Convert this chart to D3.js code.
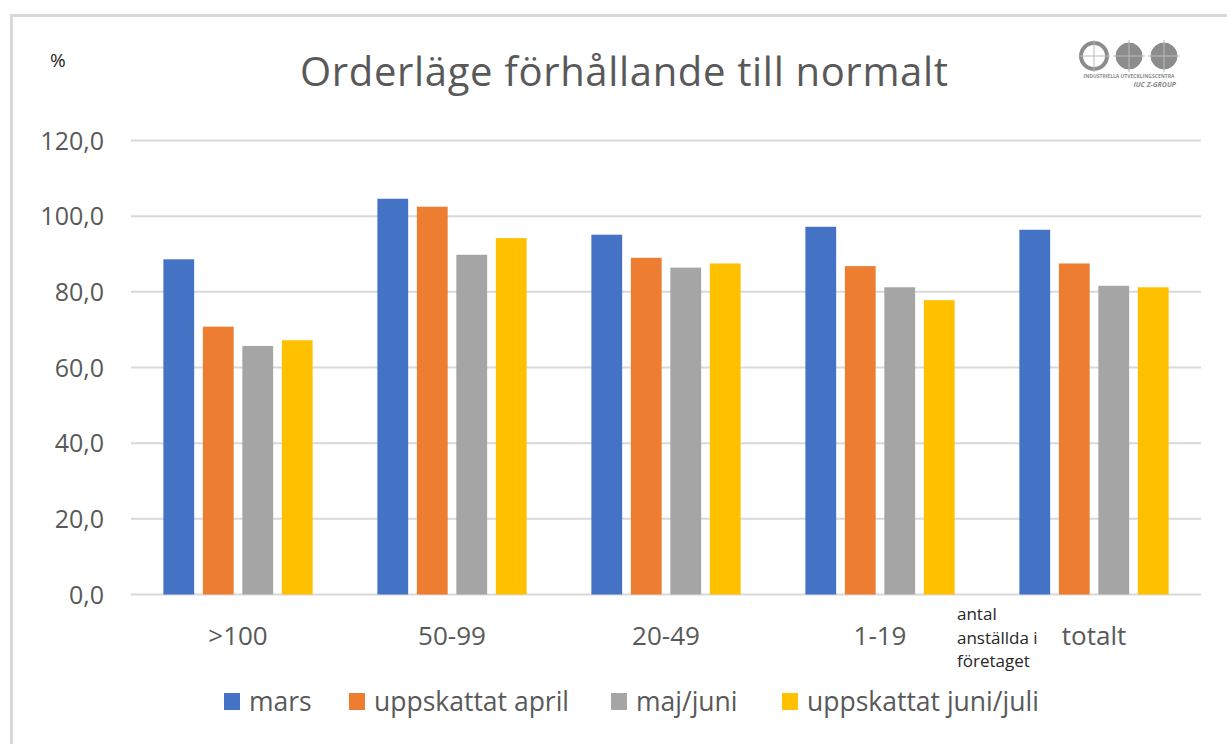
<!DOCTYPE html>
<html>
<head>
<meta charset="utf-8">
<script src="https://cdn.jsdelivr.net/npm/d3@7"></script>
<style>
  body { margin: 0; background: #fff; }
  svg { display: block; font-family: "Open Sans", "Liberation Sans", sans-serif; }
</style>
</head>
<body>
<svg id="chart" width="1227" height="744"></svg>
<script>
var categories = ['>100', '50-99', '20-49', '1-19', 'totalt'];
var seriesNames = ['mars', 'uppskattat april', 'maj/juni', 'uppskattat juni/juli'];
var mars = [88.6, 104.6, 95.1, 97.2, 96.4];
var april = [70.8, 102.5, 89.0, 86.8, 87.5];
var majJuni = [65.7, 89.8, 86.4, 81.2, 81.6];
var juniJuli = [67.2, 94.2, 87.5, 77.8, 81.2];
var yTicks = [0, 20, 40, 60, 80, 100, 120];
var colors = ['#4472c4', '#ed7d31', '#a5a5a5', '#ffc000'];

var series = [mars, april, majJuni, juniJuli];

var svg = d3.select('#chart');

// frame
svg.append('path')
  .attr('d', 'M11.5,744 V15.5 H1227')
  .attr('fill', 'none')
  .attr('stroke', '#d9d9d9')
  .attr('stroke-width', 3);

var plotL = 131, plotR = 1201, plotT = 140.5, plotB = 594.5;

var x = d3.scaleBand().domain(categories).range([plotL, plotR]);
var xs = d3.scaleBand().domain(d3.range(4)).range([0, x.bandwidth()]).paddingInner(0.22).paddingOuter(0.82);
var y = d3.scaleLinear().domain([0, 120]).range([plotB, plotT]);

// gridlines
svg.append('g').selectAll('line')
  .data(yTicks)
  .join('line')
  .attr('x1', plotL).attr('x2', plotR)
  .attr('y1', function(d) { return y(d); })
  .attr('y2', function(d) { return y(d); })
  .attr('stroke', '#d9d9d9')
  .attr('stroke-width', 2);

// y labels
svg.append('g').selectAll('text')
  .data(yTicks)
  .join('text')
  .attr('x', 104)
  .attr('y', function(d) { return y(d) + 9; })
  .attr('text-anchor', 'end')
  .attr('font-size', 25)
  .attr('fill', '#595959')
  .text(function(d) { return d3.format('.1f')(d).replace('.', ','); });

// bars
series.forEach(function(vals, si) {
  svg.append('g').selectAll('rect')
    .data(vals)
    .join('rect')
    .attr('x', function(d, i) { return x(categories[i]) + xs(si); })
    .attr('width', xs.bandwidth())
    .attr('y', function(d) { return y(d); })
    .attr('height', function(d) { return y(0) - y(d); })
    .attr('fill', colors[si]);
});

// category labels
svg.append('g').selectAll('text')
  .data(categories)
  .join('text')
  .attr('x', function(d) { return x(d) + x.bandwidth() / 2; })
  .attr('y', 645)
  .attr('text-anchor', 'middle')
  .attr('font-size', 26)
  .attr('fill', '#595959')
  .text(function(d) { return d; });

// note under the axis
var note = svg.append('text')
  .attr('font-size', 17)
  .attr('fill', '#262626');
['antal', 'anställda i', 'företaget'].forEach(function(t, i) {
  note.append('tspan').attr('x', 957).attr('y', 620 + i * 23.5).text(t);
});

// title and unit
svg.append('text')
  .attr('x', 624).attr('y', 86)
  .attr('text-anchor', 'middle')
  .attr('font-size', 40)
  .attr('fill', '#595959')
  .attr('textLength', 648)
  .text('Orderläge förhållande till normalt');

svg.append('text')
  .attr('x', 50).attr('y', 67)
  .attr('font-size', 19)
  .attr('fill', '#262626')
  .text('%');

// legend
var legendX = [224, 349, 611, 782];
var legend = svg.append('g').selectAll('g')
  .data(seriesNames)
  .join('g')
  .attr('transform', function(d, i) { return 'translate(' + legendX[i] + ',693)'; });
legend.append('rect')
  .attr('width', 16).attr('height', 17)
  .attr('fill', function(d, i) { return colors[i]; });
legend.append('text')
  .attr('x', 25).attr('y', 18)
  .attr('font-size', 26.5)
  .attr('fill', '#595959')
  .text(function(d) { return d; });

// logo
var logo = svg.append('g').attr('transform', 'translate(1080,42)').attr('fill', '#8c8c8c');
[0, 35, 70].forEach(function(dx, i) {
  logo.append('circle').attr('cx', dx + 14).attr('cy', 14).attr('r', 13)
    .attr('fill', i === 0 ? 'none' : '#8c8c8c')
    .attr('stroke', '#8c8c8c').attr('stroke-width', i === 0 ? 4 : 1);
  logo.append('line').attr('x1', dx - 2).attr('x2', dx + 30).attr('y1', 14).attr('y2', 14)
    .attr('stroke', '#bbb').attr('stroke-width', 1);
  logo.append('line').attr('x1', dx + 14).attr('x2', dx + 14).attr('y1', -2).attr('y2', 30)
    .attr('stroke', '#bbb').attr('stroke-width', 1);
});
logo.append('text').attr('x', 49).attr('y', 36).attr('text-anchor', 'middle')
  .attr('font-size', 5).attr('font-weight', 'bold').text('INDUSTRIELLA UTVECKLINGSCENTRA');
logo.append('text').attr('x', 96).attr('y', 45).attr('text-anchor', 'end')
  .attr('font-size', 7).attr('font-style', 'italic').attr('font-weight', 'bold').text('IUC Z-GROUP');
</script>
</body>
</html>
